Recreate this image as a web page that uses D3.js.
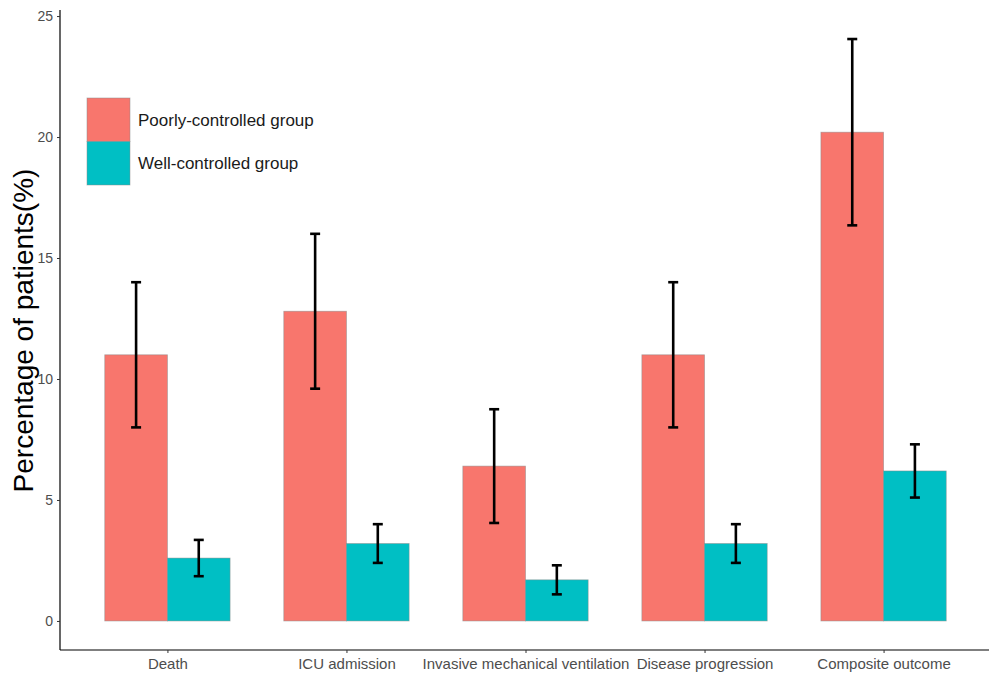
<!DOCTYPE html>
<html>
<head>
<meta charset="utf-8">
<script src="https://cdn.jsdelivr.net/npm/d3@7"></script>
<style>
  html, body { margin: 0; padding: 0; background: #fff; }
  svg { display: block; font-family: "Liberation Sans", Arial, sans-serif; }
</style>
</head>
<body>
<svg id="chart" width="989" height="677"></svg>
<script>
// Outcome categories along the x axis
const categories = ["Death", "ICU admission", "Invasive mechanical ventilation", "Disease progression", "Composite outcome"];
const groups = ["Poorly-controlled group", "Well-controlled group"];
const groupColors = ["#F8766D", "#00BFC4"];

// Percentages with lower/upper error bounds, one array per group
const poorlyValues = [11.0, 12.8, 6.4, 11.0, 20.2];
const poorlyLower  = [8.0, 9.6, 4.05, 8.0, 16.35];
const poorlyUpper  = [14.0, 16.0, 8.75, 14.0, 24.05];
const wellValues   = [2.6, 3.2, 1.7, 3.2, 6.2];
const wellLower    = [1.85, 2.4, 1.1, 2.4, 5.1];
const wellUpper    = [3.35, 4.0, 2.3, 4.0, 7.3];

const yTicks = [0, 5, 10, 15, 20, 25];

const svg = d3.select("#chart");
const plotLeft = 60, plotRight = 991, plotTop = 10, plotBottom = 650;

// ggplot-style discrete expansion: 0.6 of a step on each side
const step = (plotRight - plotLeft) / (categories.length - 1 + 1.2);
const x = d3.scalePoint().domain(categories)
  .range([plotLeft + 0.6 * step, plotRight - 0.6 * step]);
const barW = step * 0.7 / 2;

const y = d3.scaleLinear().domain([-1.2, 25.25]).range([plotBottom, plotTop]);

const rows = [];
categories.forEach((c, i) => {
  rows.push({ cat: c, g: 0, v: poorlyValues[i], lo: poorlyLower[i], hi: poorlyUpper[i] });
  rows.push({ cat: c, g: 1, v: wellValues[i], lo: wellLower[i], hi: wellUpper[i] });
});
const barX = d => x(d.cat) + (d.g === 0 ? -barW : 0);

// Bars
svg.append("g").selectAll("rect").data(rows).join("rect")
  .attr("x", barX)
  .attr("y", d => y(d.v))
  .attr("width", barW)
  .attr("height", d => y(0) - y(d.v))
  .attr("fill", d => groupColors[d.g])
  .attr("stroke", "#8a8a8a")
  .attr("stroke-opacity", 0.6)
  .attr("stroke-width", 0.8);

// Error bars
const eb = svg.append("g").attr("stroke", "#000").attr("stroke-width", 2.6).attr("fill", "none");
rows.forEach(d => {
  const cx = barX(d) + barW / 2;
  eb.append("line").attr("x1", cx).attr("x2", cx).attr("y1", y(d.lo)).attr("y2", y(d.hi));
  eb.append("line").attr("x1", cx - 5).attr("x2", cx + 5).attr("y1", y(d.lo)).attr("y2", y(d.lo));
  eb.append("line").attr("x1", cx - 5).attr("x2", cx + 5).attr("y1", y(d.hi)).attr("y2", y(d.hi));
});

// Y axis
const yAxis = svg.append("g").attr("transform", `translate(${plotLeft},0)`)
  .call(d3.axisLeft(y).tickValues(yTicks).tickSize(3).tickPadding(4));
yAxis.select(".domain").attr("d", `M0,${plotTop}V${plotBottom}`).attr("stroke", "#000").attr("stroke-width", 1.2);
yAxis.selectAll(".tick line").attr("stroke", "#333");
yAxis.selectAll(".tick text").attr("fill", "#4d4d4d").style("font-size", "14px");

// X axis
const xAxis = svg.append("g").attr("transform", `translate(0,${plotBottom})`)
  .call(d3.axisBottom(x).tickSize(3).tickPadding(5));
xAxis.select(".domain").attr("d", `M${plotLeft},0H${plotRight}`).attr("stroke", "#000").attr("stroke-width", 1.2);
xAxis.selectAll(".tick line").attr("stroke", "#333");
xAxis.selectAll(".tick text").attr("fill", "#4d4d4d").style("font-size", "15px");

// Y axis title
svg.append("text")
  .attr("transform", `translate(33,${(y(0) + y(25)) / 2 + 12}) rotate(-90)`)
  .attr("text-anchor", "middle")
  .style("font-size", "28px")
  .attr("fill", "#000")
  .text("Percentage of patients(%)");

// Legend
const lg = svg.append("g").attr("transform", "translate(87,98)");
groups.forEach((g, i) => {
  lg.append("rect").attr("x", 0).attr("y", i * 43.5).attr("width", 43).attr("height", 43.5)
    .attr("fill", groupColors[i]).attr("stroke", "#8a8a8a").attr("stroke-opacity", 0.6).attr("stroke-width", 0.8);
  lg.append("text").attr("x", 51).attr("y", i * 43.5 + 22).attr("dy", "0.35em")
    .style("font-size", "17px").attr("fill", "#1a1a1a").text(g);
});
</script>
</body>
</html>
